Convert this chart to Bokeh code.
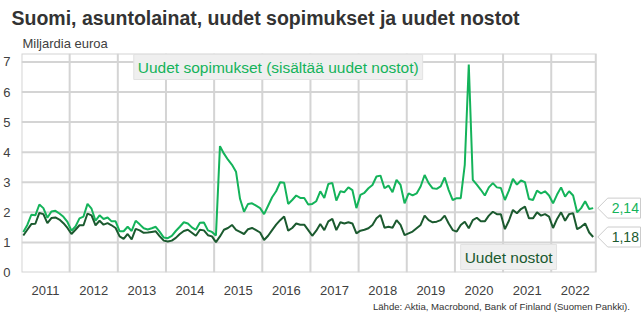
from bokeh.plotting import figure
from bokeh.models import Label, FixedTicker, Range1d, Title
from bokeh.embed import file_html
from bokeh.resources import INLINE

# Monthly data, Jan 2011 - Nov 2022 (billion euro)
sopimukset = [
    1.35, 1.58, 1.92, 1.90, 2.26, 2.14, 1.82, 2.03, 2.05, 1.96, 1.85, 1.68,   # 2011
    1.39, 1.53, 1.80, 1.86, 2.28, 2.12, 1.72, 1.90, 1.78, 1.83, 1.70, 1.70,   # 2012
    1.37, 1.37, 1.52, 1.38, 1.72, 1.60, 1.47, 1.43, 1.47, 1.52, 1.35, 1.16,   # 2013
    1.14, 1.22, 1.38, 1.52, 1.67, 1.63, 1.50, 1.42, 1.65, 1.66, 1.40, 1.35,   # 2014
    1.23, 4.20, 3.95, 3.75, 3.58, 3.35, 2.45, 2.02, 2.28, 2.30, 2.22, 2.14,   # 2015
    1.94, 2.22, 2.50, 2.70, 3.00, 2.98, 2.28, 2.41, 2.56, 2.48, 2.48, 2.26,   # 2016
    2.28, 2.37, 2.70, 2.48, 2.94, 2.98, 2.39, 2.70, 2.67, 2.83, 2.74, 2.14,   # 2017
    2.58, 2.65, 2.80, 2.91, 3.19, 3.22, 2.80, 2.89, 2.67, 3.08, 2.91, 2.30,   # 2018
    2.63, 2.56, 2.63, 2.86, 3.24, 2.97, 2.80, 2.78, 2.86, 3.16, 2.74, 2.41,   # 2019
    2.47, 2.47, 3.58, 6.91, 3.08, 2.92, 2.75, 2.56, 2.83, 2.97, 2.83, 2.81,   # 2020
    2.41, 2.72, 3.11, 2.92, 3.06, 3.00, 2.44, 2.41, 2.72, 2.63, 2.70, 2.56,   # 2021
    2.30, 2.59, 2.83, 2.52, 2.70, 2.56, 2.00, 2.14, 2.37, 2.11, 2.14,         # 2022
]
nostot = [
    1.23, 1.42, 1.61, 1.62, 1.98, 1.94, 1.64, 1.81, 1.83, 1.76, 1.64, 1.48,   # 2011
    1.28, 1.42, 1.57, 1.57, 1.96, 1.90, 1.57, 1.72, 1.59, 1.64, 1.57, 1.48,   # 2012
    1.20, 1.12, 1.28, 1.10, 1.45, 1.40, 1.32, 1.33, 1.35, 1.37, 1.20, 1.06,   # 2013
    1.03, 1.06, 1.15, 1.28, 1.38, 1.42, 1.32, 1.22, 1.42, 1.40, 1.24, 1.20,   # 2014
    1.01, 1.20, 1.42, 1.48, 1.58, 1.42, 1.35, 1.28, 1.44, 1.48, 1.41, 1.33,   # 2015
    1.08, 1.22, 1.41, 1.59, 1.74, 1.86, 1.39, 1.48, 1.63, 1.59, 1.59, 1.41,   # 2016
    1.22, 1.39, 1.61, 1.41, 1.70, 1.78, 1.41, 1.67, 1.63, 1.67, 1.63, 1.30,   # 2017
    1.39, 1.42, 1.47, 1.58, 1.80, 1.91, 1.49, 1.52, 1.49, 1.74, 1.58, 1.24,   # 2018
    1.30, 1.36, 1.47, 1.58, 1.89, 1.74, 1.67, 1.69, 1.74, 1.89, 1.63, 1.41,   # 2019
    1.36, 1.58, 1.69, 1.47, 1.74, 1.82, 1.70, 1.70, 1.89, 2.02, 1.94, 1.94,   # 2020
    1.44, 1.72, 2.08, 1.97, 2.11, 2.19, 1.80, 1.80, 2.00, 1.89, 1.94, 1.86,   # 2021
    1.48, 1.78, 2.00, 1.72, 1.94, 1.97, 1.44, 1.52, 1.63, 1.33, 1.18,         # 2022
]
years = list(range(2011, 2023))
year_labels = [str(y) for y in years]
y_ticks = [0, 1, 2, 3, 4, 5, 6, 7]
last_sop_label = "2,14"
last_nos_label = "1,18"

LIGHT = "#14b35a"
DARK = "#1b5a2f"
TXT = "#404040"
GRID = "#d4d4d4"
FONT = "Liberation Sans"

W, H = 641, 326
FL, PR, FT, FB = 17, 595, 53, 272      # data area: left, right edge of chart box, top, bottom
XMAX = 143.1                             # chart box right edge in month units
YMAX = 7.28
XFULL = (W - FL) / (PR - FL) * XMAX      # frame extends to canvas right edge


def X(px):
    return (px - FL) / (PR - FL) * XMAX


def Y(py):
    return (FB - py) / (FB - FT) * YMAX


xs = [m + 0.45 for m in range(len(sopimukset))]

p = figure(width=W, height=H, output_backend="svg", toolbar_location=None,
           x_range=Range1d(0, XFULL), y_range=Range1d(0, YMAX),
           min_border_left=FL, min_border_right=0,
           min_border_top=FT, min_border_bottom=H - FB)
p.background_fill_color = "white"
p.border_fill_color = "white"
p.outline_line_color = None
p.xgrid.visible = False
p.ygrid.visible = False

# axes
p.xaxis.ticker = FixedTicker(ticks=[12 * i + 6 for i in range(len(years))])
p.xaxis.major_label_overrides = {12 * i + 6: lab for i, lab in enumerate(year_labels)}
p.yaxis.ticker = FixedTicker(ticks=y_ticks)
for ax in (p.xaxis[0], p.yaxis[0]):
    ax.axis_line_color = None
    ax.major_tick_line_color = None
    ax.minor_tick_line_color = None
    ax.major_label_text_color = TXT
    ax.major_label_text_font = FONT
    ax.major_label_text_font_size = "13px"
p.xaxis.major_label_standoff = 7
p.yaxis.major_label_standoff = 5

# grid lines limited to the chart box
hy = y_ticks[1:]
p.segment(x0=[0] * len(hy), y0=hy, x1=[XMAX] * len(hy), y1=hy, line_color=GRID, line_width=2)
vx = [12 * i for i in range(1, len(years))]
p.segment(x0=vx, y0=[0] * len(vx), x1=vx, y1=[YMAX] * len(vx), line_color=GRID, line_width=2)
p.quad(left=[0], right=[XMAX], bottom=[0], top=[YMAX], fill_color=None, line_color=GRID, line_width=2)

p.line(xs, sopimukset, line_color=LIGHT, line_width=2)
p.line(xs, nostot, line_color=DARK, line_width=2)

# titles
p.title.text = ""
p.title.visible = False
p.add_layout(Title(text="Miljardia euroa", text_font=FONT, text_font_size="13px",
                   text_color=TXT, text_font_style="normal", align="left", offset=1, standoff=6), "above")
p.add_layout(Title(text="Suomi, asuntolainat, uudet sopimukset ja uudet nostot", text_font=FONT,
                   text_font_size="19.5px", text_font_style="bold", text_color="#333333",
                   align="left", offset=-10, standoff=3), "above")
p.add_layout(Title(text="Lähde: Aktia, Macrobond, Bank of Finland (Suomen Pankki).", text_font=FONT,
                   text_font_size="9.6px", text_font_style="normal", text_color="#333333",
                   align="right", offset=11, standoff=2), "below")

# boxed series labels
p.add_layout(Label(x=X(130), y=Y(66.5), text="Uudet sopimukset (sisältää uudet nostot)",
                   text_font=FONT, text_font_size="15.5px", text_color=LIGHT, text_baseline="middle",
                   background_fill_color="#efefef", border_line_color="#e2e2e2", padding=4))
p.add_layout(Label(x=X(459), y=Y(256.5), text="Uudet nostot",
                   text_font=FONT, text_font_size="15.5px", text_color=DARK, text_baseline="middle",
                   background_fill_color="#efefef", border_line_color="#e2e2e2", padding=4))

# end value callouts (pointer boxes)
d = 10 / (FB - FT) * YMAX
ends = [sopimukset[-1], nostot[-1]]
p.patches(xs=[[X(597), X(607), X(640), X(640), X(607)] for _ in ends],
          ys=[[v, v + d, v + d, v - d, v - d] for v in ends],
          fill_color="white", line_color="#cccccc", line_width=1)
for val, lab, col in ((sopimukset[-1], last_sop_label, LIGHT), (nostot[-1], last_nos_label, DARK)):
    p.add_layout(Label(x=X(611), y=val, text=lab, text_font=FONT, text_font_size="14px",
                       text_color=col, text_baseline="middle"))

open("out.html", "w").write(file_html(p, INLINE))
